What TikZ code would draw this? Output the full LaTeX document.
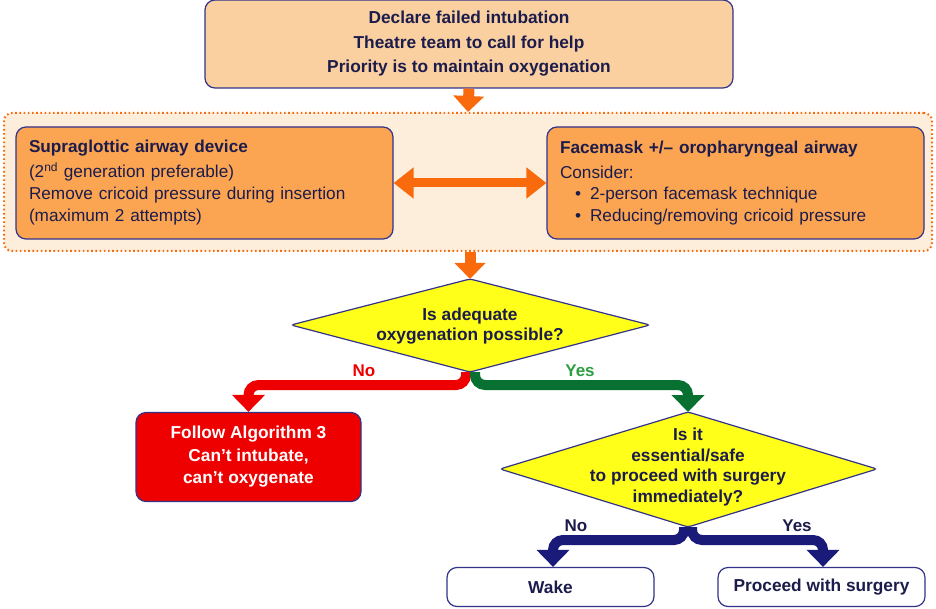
\documentclass[tikz,border=0pt]{standalone}
\usepackage{fontspec}
\setmainfont{Liberation Sans}
\usetikzlibrary{arrows.meta}
\definecolor{peach}{HTML}{FAD0A0}
\definecolor{regionfill}{HTML}{FDEEDC}
\definecolor{boxorange}{HTML}{FBA552}
\definecolor{arrorange}{HTML}{F96A0C}
\definecolor{navyline}{HTML}{33338A}
\definecolor{txt}{HTML}{1C1C4C}
\definecolor{redbox}{HTML}{EE0000}
\definecolor{greenline}{HTML}{087030}
\definecolor{greenlab}{HTML}{2E9E40}
\definecolor{navyarrow}{HTML}{1A1A78}
\definecolor{yel}{HTML}{FFFF1A}
\tikzset{
  rbox/.style={draw=navyline, line width=1.2pt, rounded corners=10pt, inner sep=0pt},
  fatarrow/.style={line width=11pt, -{Triangle[width=30pt,length=16pt]}},
  dblarrow/.style={line width=9pt, {Triangle[width=30pt,length=20pt]}-{Triangle[width=30pt,length=20pt]}},
  branch/.style={line width=10pt, rounded corners=10pt, -{Triangle[width=32pt,length=17pt]}},
  lab/.style={font=\fontsize{17}{19}\selectfont\bfseries},
}
\begin{document}
\begin{tikzpicture}[x=1pt,y=-1pt]
\useasboundingbox (0,0) rectangle (936,609);
% top box
\node[rbox, fill=peach, minimum width=528pt, minimum height=88pt, text=txt, align=center,
  font=\fontsize{17.3}{24.5}\selectfont\bfseries] (top) at (469,44)
  {Declare failed intubation\\Theatre team to call for help\\Priority is to maintain oxygenation};
% region
\node[draw=arrorange, fill=regionfill, line width=2pt, dash pattern=on 1.6pt off 2.6pt,
  rounded corners=8pt, minimum width=928pt, minimum height=138pt, inner sep=0pt] (region) at (468,182) {};
% left box
\node[rbox, fill=boxorange, minimum width=377pt, minimum height=112pt, text width=351pt,
  align=left, text=txt, font=\fontsize{17.2}{22}\selectfont, inner xsep=13pt] (sad) at (204.5,183)
  {{\bfseries Supraglottic airway device}\\[3pt]
   (2\textsuperscript{nd} generation preferable)\\
   Remove cricoid pressure during insertion\\
   (maximum 2 attempts)};
% right box
\node[rbox, fill=boxorange, minimum width=377pt, minimum height=112pt, text width=351pt,
  align=left, text=txt, font=\fontsize{17.2}{21.5}\selectfont, inner xsep=13pt] (fm) at (735.5,183)
  {{\bfseries Facemask +/– oropharyngeal airway}\\[3pt]
   Consider:\\
   \hspace*{15pt}\textbullet\hspace{9pt}2-person facemask technique\\
   \hspace*{15pt}\textbullet\hspace{9pt}Reducing/removing cricoid pressure};
\draw[dblarrow, arrorange] (sad.east) -- (fm.west);
\draw[fatarrow, arrorange] (top.south) -- (region.north);
% diamond 1
\coordinate (d1t) at (470,279);
\coordinate (d1b) at (470,372);
\coordinate (d1l) at (291,325);
\coordinate (d1r) at (650,325);
\draw[navyline, fill=yel, line width=1.2pt, rounded corners=3pt] (d1t) -- (d1r) -- (d1b) -- (d1l) -- cycle;
\node[align=center, text=txt, font=\fontsize{17.3}{20}\selectfont\bfseries] (q1) at (470,326)
  {Is adequate\\oxygenation possible?};
\draw[fatarrow, arrorange] (region.south -| d1t) -- (d1t);
% red box
\node[rbox, fill=redbox, minimum width=225pt, minimum height=89pt, text=white, align=center,
  font=\fontsize{17.3}{22.5}\selectfont\bfseries] (cico) at (248.5,457)
  {Follow Algorithm 3\\Can’t intubate,\\can’t oxygenate};
% diamond 2
\coordinate (d2t) at (688,412);
\coordinate (d2b) at (688,527);
\coordinate (d2l) at (500,469);
\coordinate (d2r) at (877,469);
\draw[navyline, fill=yel, line width=1.2pt, rounded corners=3pt] (d2t) -- (d2r) -- (d2b) -- (d2l) -- cycle;
\node[align=center, text=txt, font=\fontsize{17.3}{20.5}\selectfont\bfseries] (q2) at (688,467)
  {Is it\\essential/safe\\to proceed with surgery\\immediately?};
% branches of diamond 1
\coordinate (s1l) at (466,372);
\coordinate (s1r) at (475,372);
\draw[branch, redbox] (s1l) -- (466,385) -| (cico.north);
\draw[branch, greenline] (s1r) -- (475,385) -| (d2t);
\node[lab, text=redbox] (nolab1) at (364,371) {No};
\node[lab, text=greenlab] (yeslab1) at (580,371) {Yes};
% bottom boxes
\node[rbox, fill=white, minimum width=207pt, minimum height=39pt, text=txt,
  font=\fontsize{17.3}{19}\selectfont\bfseries] (wake) at (550.5,587) {Wake};
\node[rbox, fill=white, minimum width=207pt, minimum height=39pt, text=txt,
  font=\fontsize{17.3}{19}\selectfont\bfseries] (proc) at (821.5,587) {Proceed with surgery};
\coordinate (s2l) at (684,527);
\coordinate (s2r) at (692,527);
\draw[branch, navyarrow] (s2l) -- (684,540) -| (wake.north -| 553,0);
\draw[branch, navyarrow] (s2r) -- (692,540) -| (proc.north -| 823,0);
\node[lab, text=txt] (nolab2) at (576,526) {No};
\node[lab, text=txt] (yeslab2) at (797,526) {Yes};
\end{tikzpicture}
\end{document}
